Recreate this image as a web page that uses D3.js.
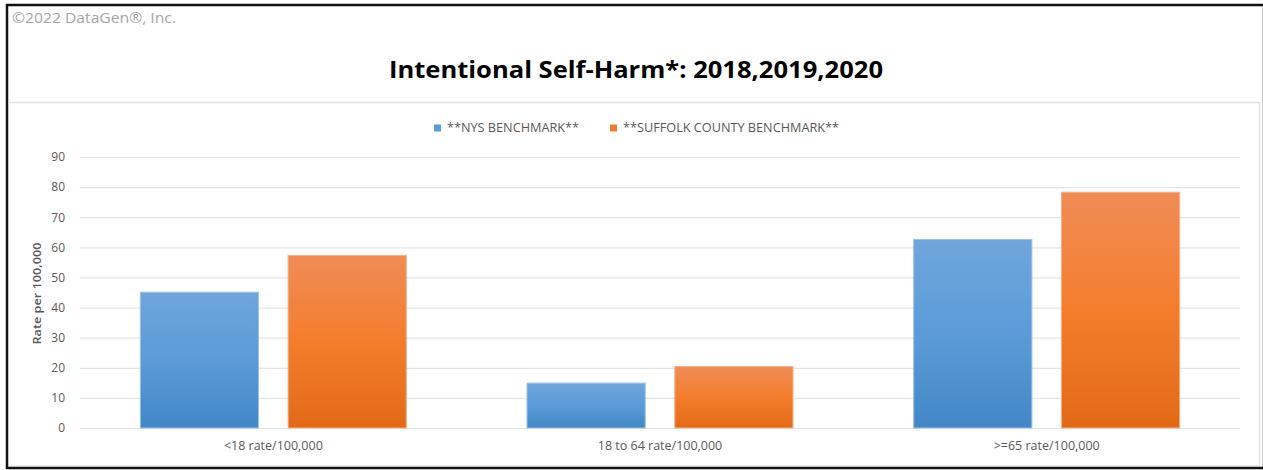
<!DOCTYPE html>
<html>
<head>
<meta charset="utf-8">
<script src="https://cdn.jsdelivr.net/npm/d3@7"></script>
<style>
    body { margin: 0; background: #fff; }
    svg { display: block; }
</style>
</head>
<body>
<div id="chart"></div>
<script>
// data
var categories = ['<18 rate/100,000', '18 to 64 rate/100,000', '>=65 rate/100,000']
var seriesNames = ['**NYS BENCHMARK**', '**SUFFOLK COUNTY BENCHMARK**']
var nysValues = [45.1, 14.9, 62.6]
var suffolkValues = [57.3, 20.4, 78.3]
var yTicks = [0, 10, 20, 30, 40, 50, 60, 70, 80, 90]

var width = 1263
var height = 470
var marginLeft = 80
var marginRight = 23
var marginTop = 157
var plotBottom = 428
var W = width - marginLeft - marginRight
var H = plotBottom - marginTop
var fontFamily = '"Open Sans", "Noto Sans", sans-serif'
var textColor = '#595959'

var svg = d3.select('#chart').append('svg')
    .attr('width', width)
    .attr('height', height)

//渐变
var defs = svg.append('defs')
var gradients = [
    { id: 'gradBlue', stops: ['#6fa6dc', '#5b9bd8', '#4387c6'] },
    { id: 'gradOrange', stops: ['#f08c57', '#f47d2c', '#e26a17'] }
]
gradients.forEach(function (g) {
    var lg = defs.append('linearGradient')
        .attr('id', g.id)
        .attr('x1', 0).attr('y1', 0).attr('x2', 0).attr('y2', 1)
    g.stops.forEach(function (c, i) {
        lg.append('stop').attr('offset', (i / (g.stops.length - 1) * 100) + '%').attr('stop-color', c)
    })
})
var strokes = ['#9cc2e8', '#f6b08a']
var legendColors = ['#5b9bd5', '#ed7d31']

// frames
svg.append('line').attr('x1', 9).attr('x2', 1259).attr('y1', 102.5).attr('y2', 102.5)
    .attr('stroke', '#dfe3e8').attr('stroke-width', 1.5)
svg.append('line').attr('x1', 1259.5).attr('x2', 1259.5).attr('y1', 102).attr('y2', 466)
    .attr('stroke', '#dfe3e8').attr('stroke-width', 1.5)
svg.append('line').attr('x1', 9).attr('x2', 1259).attr('y1', 465.5).attr('y2', 465.5)
    .attr('stroke', '#e6e9ee').attr('stroke-width', 1)
svg.append('line').attr('x1', 1262.5).attr('x2', 1262.5).attr('y1', 4).attr('y2', 468)
    .attr('stroke', '#c8c8c8').attr('stroke-width', 1)
svg.append('path')
    .attr('d', 'M1263,5 L7,5 L7,468 L1263,468')
    .attr('fill', 'none').attr('stroke', '#111').attr('stroke-width', 2.5)

svg.append('text')
    .attr('x', 12).attr('y', 23)
    .attr('font-family', fontFamily).attr('font-size', 14.5)
    .attr('fill', '#a6a6a6')
    .attr('textLength', 164).attr('lengthAdjust', 'spacingAndGlyphs')
    .text('©2022 DataGen®, Inc.')

svg.append('text')
    .attr('x', 636).attr('y', 78)
    .attr('text-anchor', 'middle')
    .attr('font-family', fontFamily).attr('font-size', 24).attr('font-weight', 700)
    .attr('fill', '#000')
    .attr('textLength', 494).attr('lengthAdjust', 'spacingAndGlyphs')
    .text('Intentional Self-Harm*: 2018,2019,2020')

//比例尺
var X0 = d3.scaleBand().domain(categories).range([0, W]).paddingInner(0).paddingOuter(0)
var groupW = 266
var X1 = d3.scaleBand().domain(seriesNames).range([0, groupW]).paddingInner(0.2)
var Y = d3.scaleLinear().domain([0, 90]).range([H, 0])

var rootG = svg.append('g')
    .attr('transform', 'translate(' + marginLeft + ',' + marginTop + ')')

// grid
rootG.append('g')
    .attr('class', 'grid')
    .call(d3.axisLeft(Y).tickValues(yTicks).tickSize(-W).tickFormat(''))
    .call(function (g) {
        g.select('.domain').remove()
        g.selectAll('line').attr('stroke', '#e1e5ea').attr('stroke-width', 1.2)
    })

// y axis labels
rootG.append('g')
    .attr('class', 'yAxis')
    .call(d3.axisLeft(Y).tickValues(yTicks).tickSize(0).tickPadding(15))
    .call(function (g) {
        g.select('.domain').remove()
        g.selectAll('text').attr('font-family', fontFamily).attr('font-size', 12).attr('fill', textColor)
    })

svg.append('text')
    .attr('transform', 'translate(41,' + (marginTop + H / 2 + 1) + ') rotate(-90)')
    .attr('text-anchor', 'middle')
    .attr('font-family', fontFamily).attr('font-size', 11.5).attr('font-weight', 600)
    .attr('fill', textColor)
    .attr('textLength', 102).attr('lengthAdjust', 'spacingAndGlyphs')
    .text('Rate per 100,000')

// x axis labels
rootG.append('g')
    .attr('class', 'xAxis')
    .attr('transform', 'translate(0,' + H + ')')
    .call(d3.axisBottom(X0).tickSize(0).tickPadding(13))
    .call(function (g) {
        g.select('.domain').remove()
        g.selectAll('text').attr('font-family', fontFamily).attr('font-size', 12.5).attr('fill', textColor)
    })

// bars
var allValues = [nysValues, suffolkValues]
var groups = rootG.append('g')
    .attr('class', 'rects')
    .selectAll('g')
    .data(categories)
    .enter()
    .append('g')
    .attr('transform', function (d) {
        return 'translate(' + (X0(d) + (X0.bandwidth() - groupW) / 2) + ',0)'
    })

groups.selectAll('rect')
    .data(function (d, i) {
        return seriesNames.map(function (s, j) { return { s: s, j: j, v: allValues[j][i] } })
    })
    .enter()
    .append('rect')
    .attr('x', function (d) { return X1(d.s) })
    .attr('y', function (d) { return Y(d.v) })
    .attr('width', X1.bandwidth())
    .attr('height', function (d) { return Y(0) - Y(d.v) })
    .attr('fill', function (d) { return 'url(#' + gradients[d.j].id + ')' })
    .attr('stroke', function (d) { return strokes[d.j] })
    .attr('stroke-width', 1)

// legend
var legendX = [434, 610]
var legendW = [132, 216]
var legend = svg.append('g').attr('class', 'legend')
seriesNames.forEach(function (name, i) {
    legend.append('rect')
        .attr('x', legendX[i]).attr('y', 124.5)
        .attr('width', 7).attr('height', 7)
        .attr('fill', legendColors[i])
    legend.append('text')
        .attr('x', legendX[i] + 13).attr('y', 131.5)
        .attr('font-family', fontFamily).attr('font-size', 12)
        .attr('fill', textColor)
        .attr('textLength', legendW[i]).attr('lengthAdjust', 'spacingAndGlyphs')
        .text(name)
})
</script>
</body>
</html>
